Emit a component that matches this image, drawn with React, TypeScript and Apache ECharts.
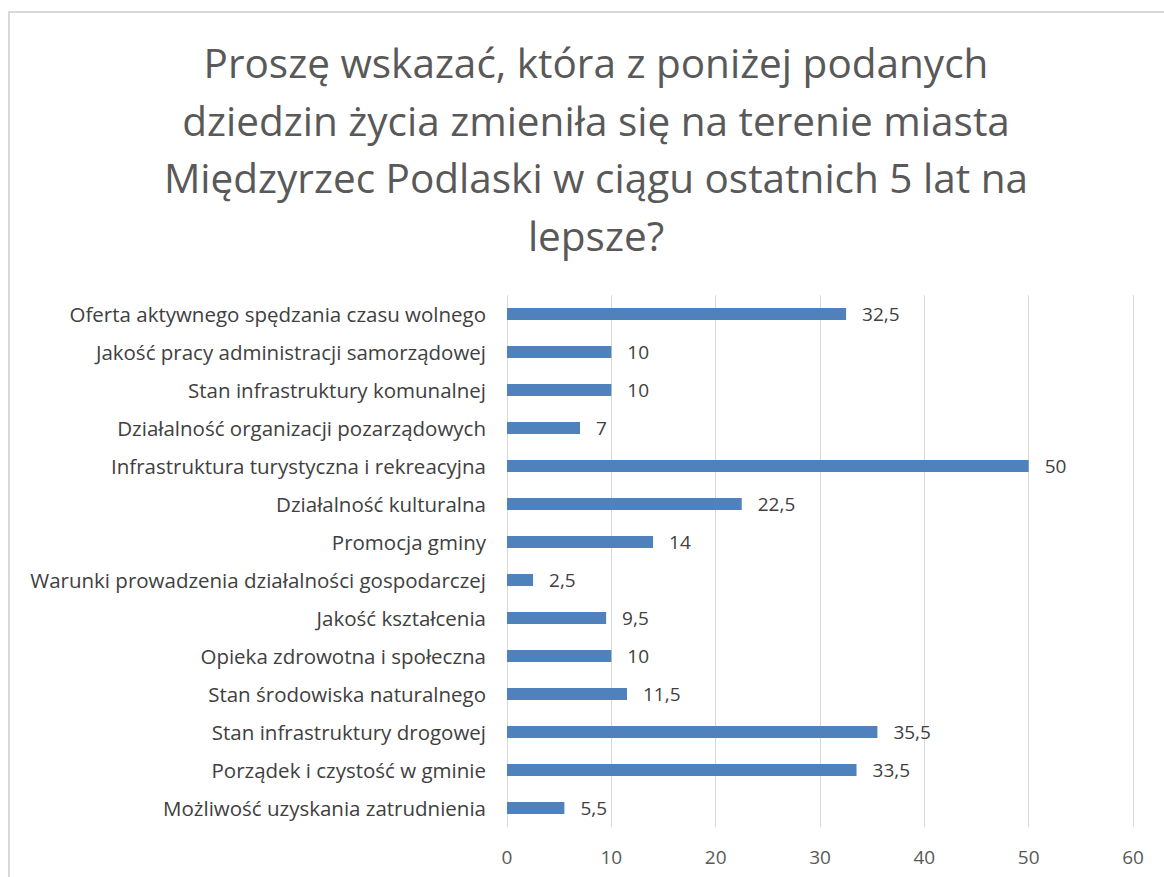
import React, { useEffect, useRef } from "react";
import * as echarts from "echarts";

const categories = [
  "Oferta aktywnego spędzania czasu wolnego",
  "Jakość pracy administracji samorządowej",
  "Stan infrastruktury komunalnej",
  "Działalność organizacji pozarządowych",
  "Infrastruktura turystyczna i rekreacyjna",
  "Działalność kulturalna",
  "Promocja gminy",
  "Warunki prowadzenia działalności gospodarczej",
  "Jakość kształcenia",
  "Opieka zdrowotna i społeczna",
  "Stan środowiska naturalnego",
  "Stan infrastruktury drogowej",
  "Porządek i czystość w gminie",
  "Możliwość uzyskania zatrudnienia",
];
const values = [32.5, 10, 10, 7, 50, 22.5, 14, 2.5, 9.5, 10, 11.5, 35.5, 33.5, 5.5];
const titleText =
  "Proszę wskazać, która z poniżej podanych\ndziedzin życia zmieniła się na terenie miasta\nMiędzyrzec Podlaski w ciągu ostatnich 5 lat na\nlepsze?";

const FONT = "'Open Sans', 'Noto Sans', sans-serif";

export default function App() {
  const ref = useRef<HTMLDivElement>(null);
  useEffect(() => {
    if (!ref.current) return;
    const chart = echarts.init(ref.current, null, { renderer: "svg" });
    chart.setOption({
      animation: false,
      backgroundColor: "#ffffff",
      textStyle: { fontFamily: FONT },
      title: {
        text: titleText,
        left: 591,
        top: 29,
        textAlign: "center",
        textStyle: {
          fontFamily: FONT,
          fontSize: 40.5,
          fontWeight: "normal",
          color: "#595959",
          lineHeight: 57.5,
        },
      },
      graphic: [
        {
          type: "rect",
          shape: { x: 9, y: 12, width: 1200, height: 900 },
          style: { fill: "none", stroke: "#d9d9d9", lineWidth: 2 },
          silent: true,
        },
      ],
      grid: { left: 507, right: 31, top: 295, bottom: 50, containLabel: false },
      xAxis: {
        type: "value",
        min: 0,
        max: 60,
        interval: 10,
        axisLine: { show: false },
        axisTick: { show: false },
        splitLine: { show: true, lineStyle: { color: "#d9d9d9", width: 1 } },
        axisLabel: { color: "#595959", fontSize: 19, margin: 20, fontFamily: FONT },
      },
      yAxis: {
        type: "category",
        data: categories,
        inverse: true,
        axisLine: { show: false },
        axisTick: { show: false },
        axisLabel: { color: "#404040", fontSize: 20.5, margin: 21, fontFamily: FONT },
      },
      series: [
        {
          type: "bar",
          data: values,
          barWidth: 12,
          itemStyle: { color: "#4f81bd" },
          label: {
            show: true,
            position: "right",
            distance: 16,
            color: "#404040",
            fontSize: 19,
            fontFamily: FONT,
            formatter: (p: any) => String(p.value).replace(".", ","),
          },
        },
      ],
    });
    return () => chart.dispose();
  }, []);
  return (
    <div
      ref={ref}
      style={{ position: "fixed", left: 0, top: 0, width: 1164, height: 877 }}
    />
  );
}
